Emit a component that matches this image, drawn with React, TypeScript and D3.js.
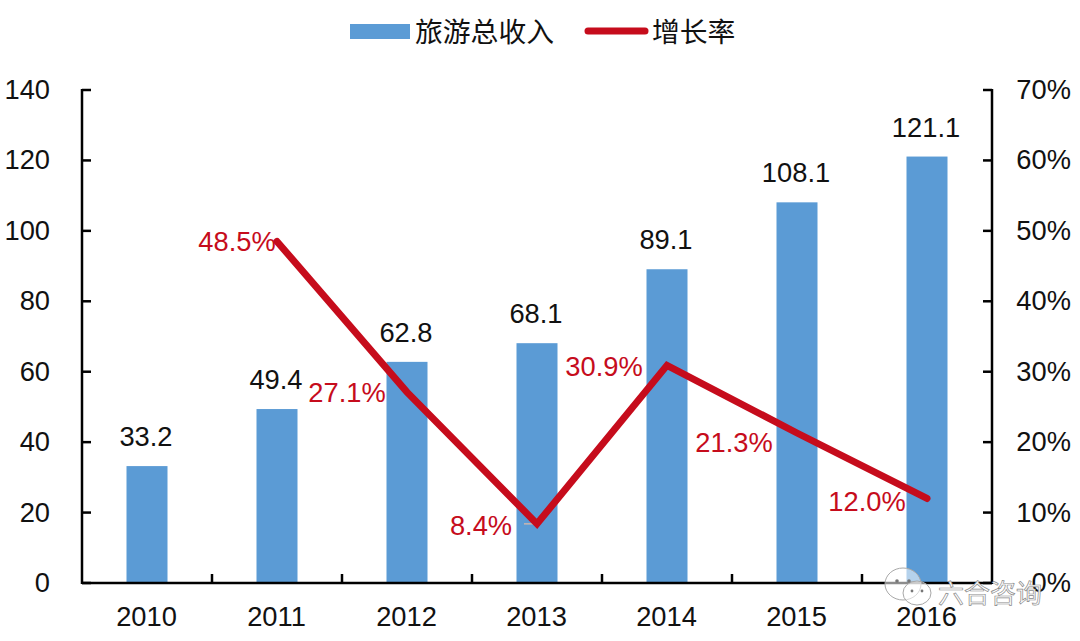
import React from 'react'
import * as d3 from 'd3'

const years = ['2010', '2011', '2012', '2013', '2014', '2015', '2016']
const revenue = [33.2, 49.4, 62.8, 68.1, 89.1, 108.1, 121.1]
const growthYears = ['2011', '2012', '2013', '2014', '2015', '2016']
const growth = [48.5, 27.1, 8.4, 30.9, 21.3, 12.0]
const leftTicks = [0, 20, 40, 60, 80, 100, 120, 140]
const rightTicks = [0, 10, 20, 30, 40, 50, 60, 70]

// label offsets from the line points
const growthLabelDx = [-40, -60, -56, -63, -63, -60]
const growthLabelDy = [1, 1, 2, 2, 10, 4]

const RED = '#c60c1c'
const BLUE = '#5b9bd5'
const FONT = '"Liberation Sans", Arial, sans-serif'
const CJK = '"Noto Sans CJK SC", sans-serif'

const margin = { top: 90, right: 88, bottom: 58, left: 82 }
const width = 1080
const height = 641
const innerBottom = height - margin.bottom
const innerRight = width - margin.right

export default function App() {
  const x = d3.scaleBand<string>().domain(years).range([margin.left, innerRight])
  const yLeft = d3.scaleLinear().domain([0, 140]).range([innerBottom, margin.top])
  const yRight = d3.scaleLinear().domain([0, 70]).range([innerBottom, margin.top])
  const barWidth = 41
  const cx = (y: string) => (x(y) as number) + x.bandwidth() / 2

  const line = d3
    .line<number>()
    .x((_, i) => cx(growthYears[i]))
    .y((d) => yRight(d))

  return (
    <svg
      width={width}
      height={height}
      style={{ position: 'absolute', left: 0, top: 0, background: '#fff' }}
      fontFamily={FONT}
    >
      {/* legend */}
      <rect x={350} y={24} width={60} height={15} fill={BLUE} />
      <text x={415} y={42} fontFamily={CJK} fontSize={27.8} fill="#111">旅游总收入</text>
      <line x1={588} x2={645} y1={31} y2={31} stroke={RED} strokeWidth={7} strokeLinecap="round" />
      <text x={652} y={42} fontFamily={CJK} fontSize={27.8} fill="#111">增长率</text>

      {/* bars */}
      {years.map((y, i) => (
        <rect
          key={y}
          x={cx(y) - barWidth / 2}
          y={yLeft(revenue[i])}
          width={barWidth}
          height={innerBottom - yLeft(revenue[i])}
          fill={BLUE}
        />
      ))}

      {/* axes */}
      <g stroke="#000" strokeWidth={2.5} fill="none">
        <line x1={margin.left} x2={margin.left} y1={margin.top - 1} y2={innerBottom + 1} />
        <line x1={innerRight} x2={innerRight} y1={margin.top - 1} y2={innerBottom + 1} />
        <line x1={margin.left} x2={innerRight} y1={innerBottom} y2={innerBottom} />
        {leftTicks.map((t) => (
          <line key={t} x1={margin.left} x2={margin.left + 9} y1={yLeft(t)} y2={yLeft(t)} />
        ))}
        {rightTicks.map((t) => (
          <line key={t} x1={innerRight} x2={innerRight - 9} y1={yRight(t)} y2={yRight(t)} />
        ))}
        {years.slice(1).map((y) => (
          <line key={y} x1={x(y)} x2={x(y)} y1={innerBottom} y2={innerBottom - 9} />
        ))}
      </g>

      {/* tick labels */}
      <g fontSize={27.3} fill="#111">
        {leftTicks.map((t) => (
          <text key={t} x={50} y={yLeft(t) + 9} textAnchor="end">{t}</text>
        ))}
        {rightTicks.map((t) => (
          <text key={t} x={1071} y={yRight(t) + 9} textAnchor="end">{t}%</text>
        ))}
        {years.map((y) => (
          <text key={y} x={cx(y) - 0.5} y={626} textAnchor="middle">{y}</text>
        ))}
        {years.map((y, i) => (
          <text key={y} x={cx(y) - 1} y={yLeft(revenue[i]) - 20} textAnchor="middle">
            {revenue[i].toFixed(1)}
          </text>
        ))}
      </g>

      {/* small leader mark under the 2013 point */}
      <line
        x1={cx('2013') - 13}
        x2={cx('2013')}
        y1={yRight(8.4)}
        y2={yRight(8.4)}
        stroke="#c9b5b0"
        strokeWidth={1.5}
      />

      {/* growth line */}
      <path
        d={line(growth) as string}
        fill="none"
        stroke={RED}
        strokeWidth={7}
        strokeLinecap="round"
        strokeLinejoin="miter"
      />
      <g fontSize={27.3} fill={RED} textAnchor="middle">
        {growth.map((g, i) => (
          <text
            key={growthYears[i]}
            x={cx(growthYears[i]) + growthLabelDx[i]}
            y={yRight(g) + growthLabelDy[i] + 9}
          >
            {g.toFixed(1)}%
          </text>
        ))}
      </g>

      {/* watermark */}
      <g fill="rgba(255,255,255,0.55)" stroke="#a8a8a8" strokeWidth={1}>
        <ellipse cx={903} cy={584} rx={18} ry={16} />
        <ellipse cx={917} cy={593} rx={14} ry={12} />
      </g>
      <g fill="#777">
        <circle cx={897} cy={581} r={1.8} />
        <circle cx={909} cy={581} r={1.8} />
        <circle cx={912} cy={591} r={1.4} />
        <circle cx={922} cy={591} r={1.4} />
      </g>
      <text x={938} y={603} fontFamily={CJK} fontSize={26} fill="#fff" stroke="#8a8a8a" strokeWidth={0.7}>
        六合咨询
      </text>
    </svg>
  )
}
